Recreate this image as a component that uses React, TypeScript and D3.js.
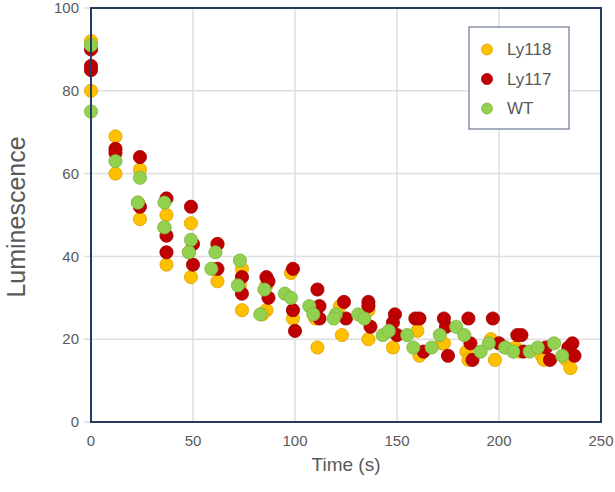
import * as React from 'react';
import * as d3 from 'd3';

type Pt = [number, number];

const xTicks = [0, 50, 100, 150, 200, 250];
const yTicks = [0, 20, 40, 60, 80, 100];
const seriesNames = ['Ly118', 'Ly117', 'WT'];
const seriesColors = ['#FFC000', '#C00000', '#92D050'];
const seriesStrokes = ['#D9A300', '#A00000', '#7DB53F'];

const ly118: Pt[] = [
  [0, 92], [0, 80], [12, 69], [12, 60], [24, 61], [23, 53], [24, 49],
  [37, 50], [36, 47], [37, 38], [49, 48], [48, 41], [49, 35], [62, 43],
  [62, 34], [60, 37], [73, 33], [74, 37], [74, 27], [86, 33], [86, 27],
  [84, 26], [98, 36], [99, 25], [110, 25], [111, 18], [122, 28], [123, 21],
  [136, 27], [136, 20], [147, 22], [148, 18], [160, 22], [161, 16],
  [172, 19], [173, 19], [184, 17], [185, 15], [196, 20], [198, 15],
  [203, 18], [208, 18], [210, 17], [221, 16], [222, 15], [233, 15], [235, 13]
];

const ly117: Pt[] = [
  [0, 90], [0, 86], [0, 85], [12, 66], [12, 65], [24, 64], [24, 52],
  [37, 54], [37, 45], [37, 41], [49, 52], [50, 43], [50, 38], [62, 43],
  [62, 37], [74, 35], [74, 31], [86, 35], [87, 34], [87, 30], [99, 37],
  [99, 27], [100, 22], [111, 32], [112, 28], [112, 25], [124, 29], [125, 25],
  [136, 29], [136, 28], [137, 23], [149, 26], [148, 24], [150, 21],
  [159, 25], [161, 25], [163, 17], [173, 25], [174, 23], [175, 16],
  [185, 25], [186, 19], [187, 15], [197, 25], [200, 19], [209, 21],
  [211, 21], [212, 17], [223, 18], [225, 15], [234, 18], [236, 19], [237, 16]
];

const wt: Pt[] = [
  [0, 91], [0, 75], [12, 63], [24, 59], [23, 53], [36, 53], [36, 47],
  [49, 44], [48, 41], [59, 37], [61, 41], [73, 39], [72, 33], [85, 32],
  [83, 26], [95, 31], [98, 30], [107, 28], [109, 26], [120, 26], [119, 25],
  [131, 26], [134, 25], [143, 21], [146, 22], [155, 21], [158, 18],
  [167, 18], [171, 21], [179, 23], [183, 21], [191, 17], [195, 19],
  [203, 18], [207, 17], [215, 17], [219, 18], [227, 19], [231, 16]
];

const allSeries = [ly118, ly117, wt];

export default function App() {
  const W = 615;
  const H = 492;
  const m = { left: 91, right: 601, top: 8, bottom: 422 };

  const x = d3.scaleLinear().domain([0, 250]).range([m.left, m.right]);
  const y = d3.scaleLinear().domain([0, 100]).range([m.bottom, m.top]);

  const font = '"Liberation Sans", "Open Sans", sans-serif';
  const drawOrder = [0, 1, 2];

  return (
    <svg
      width={W}
      height={H}
      style={{ position: 'absolute', left: 0, top: 0, background: '#fff' }}
      fontFamily={font}
    >
      {/* grid */}
      <g stroke="#dedede" strokeWidth={1.5}>
        {xTicks.slice(1, -1).map(t => (
          <line key={'gx' + t} x1={x(t)} x2={x(t)} y1={m.top} y2={m.bottom} />
        ))}
        {yTicks.slice(1, -1).map(t => (
          <line key={'gy' + t} x1={m.left} x2={m.right} y1={y(t)} y2={y(t)} />
        ))}
        {yTicks.map(t => (
          <line key={'ty' + t} x1={m.left - 7} x2={m.left} y1={y(t)} y2={y(t)} />
        ))}
      </g>

      {/* points */}
      {drawOrder.map(si => (
        <g key={seriesNames[si]}>
          {allSeries[si].map((d, i) => (
            <circle
              key={i}
              cx={x(d[0])}
              cy={y(d[1])}
              r={6.6}
              fill={seriesColors[si]}
              stroke={seriesStrokes[si]}
              strokeWidth={0.8}
            />
          ))}
        </g>
      ))}

      {/* frame */}
      <rect
        x={m.left}
        y={m.top}
        width={m.right - m.left}
        height={m.bottom - m.top}
        fill="none"
        stroke="#243a5e"
        strokeWidth={2}
      />

      {/* tick labels */}
      <g fill="#595959" fontSize={15}>
        {yTicks.map(t => (
          <text key={'ly' + t} x={m.left - 12} y={y(t)} dy="0.35em" textAnchor="end">
            {t}
          </text>
        ))}
        {xTicks.map(t => (
          <text key={'lx' + t} x={x(t)} y={m.bottom + 24} textAnchor="middle">
            {t}
          </text>
        ))}
      </g>

      {/* axis titles */}
      <text x={(m.left + m.right) / 2} y={471} textAnchor="middle" fontSize={19} fill="#595959">
        Time (s)
      </text>
      <text
        transform="translate(25,217) rotate(-90)"
        textAnchor="middle"
        fontSize={25}
        fill="#595959"
      >
        Luminescence
      </text>

      {/* legend */}
      <g>
        <rect x={469} y={27} width={100} height={102} fill="#fff" stroke="#6b7894" strokeWidth={1.2} />
        {seriesNames.map((n, i) => (
          <g key={n} transform={`translate(487,${49.5 + i * 29.5})`}>
            <circle r={5.5} fill={seriesColors[i]} stroke={seriesStrokes[i]} strokeWidth={0.8} />
            <text x={20} dy="0.35em" fontSize={17} fill="#595959">
              {n}
            </text>
          </g>
        ))}
      </g>
    </svg>
  );
}
